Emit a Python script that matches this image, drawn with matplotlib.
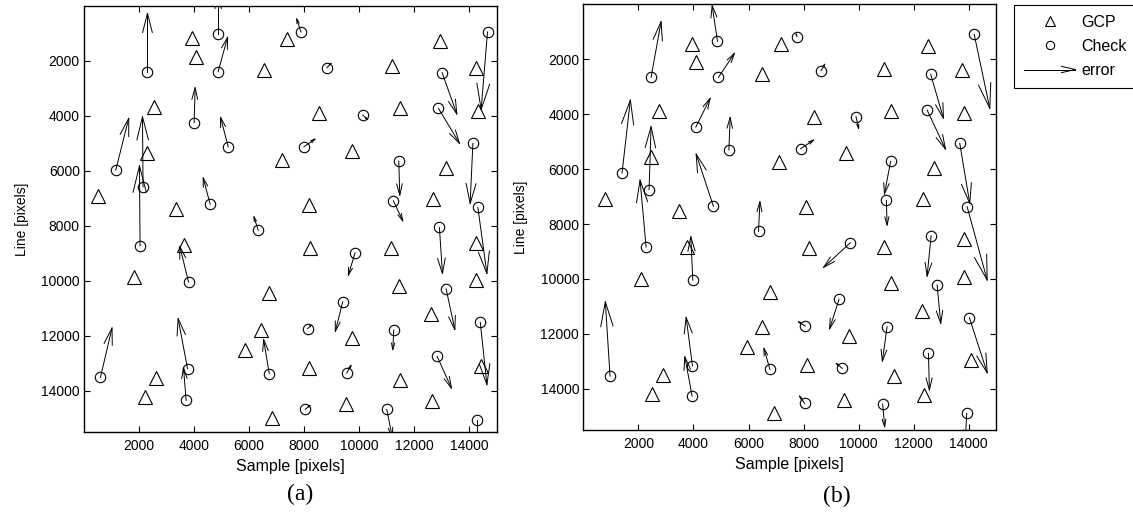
import numpy as np
import matplotlib.pyplot as plt
from matplotlib.lines import Line2D
from matplotlib.legend_handler import HandlerBase

plt.rcParams['font.family'] = ['Liberation Sans', 'DejaVu Sans']

# ---- panel (a) ----
gcp_a_x = [498, 1807, 2218, 2633, 2280, 2535, 3345, 3615, 3905, 4050, 5844, 6425, 6716,
           6813, 6535, 7382, 7189, 8171, 8207, 8171, 8535, 9745, 9745, 9527, 11200, 11480,
           11142, 11433, 11469, 12680, 12596, 12633, 12924, 13142, 14255, 14305, 14255,
           14233, 14425]
gcp_a_y = [6918, 9858, 14230, 13537, 5363, 3665, 7392, 8703, 1173, 1866, 12503, 11775, 10426,
           14980, 2328, 1199, 5607, 7234, 8812, 13184, 3905, 5279, 12080, 14495, 2182, 3701,
           8812, 10186, 13621, 7038, 11191, 14375, 1283, 5887, 2244, 3810, 8641,
           9978, 13111]

chk_a_x = [2305, 4873, 4873, 4000, 5236, 1153, 2145, 2036, 4582, 6327, 7880, 8825, 13007,
           14655, 10124, 12873, 14124, 7989, 11433, 11236, 14305, 9844, 12909, 3796, 596,
           3760, 3709, 6727, 9396, 8124, 9542, 8036, 11251, 10996, 13153, 12825, 14393, 14280]
chk_a_y = [2390, 1027, 2390, 4248, 5122, 5971, 6579, 8728, 7210, 8157, 944, 2244, 2426,
           944, 3967, 3723, 4998, 5122, 5643, 7089, 7330, 8983, 8058, 10040, 13512,
           13195, 14350, 13377, 10768, 11738, 13355, 14678, 11789, 14678, 10295, 12747, 11509, 15053]
err_a_u = [0, 0, 342, 36, -276, 472, -21, -21, -255, -156, -156, 146, 535,
           -230, 167, 763, -99, 400, 36, 342, 328, -244, 109, -316, 422,
           -342, -94, -203, -269, 120, 156, 171, -37, 200, 316, 520, 240, 0]
err_a_v = [-2130, -1400, -1253, -1275, -1071, -1884, -2550, -2914, -959, -485, -474, -160, 1505,
           2816, 157, 1275, 2186, -280, 1239, 729, 2404, 813, 1676, -1290, -1796,
           -1821, -1191, -1239, 1068, -120, -280, -146, 714, 1000, 1480, 1155, 2269, 900]

# ---- panel (b) ----
gcp_b_x = [789, 2087, 2498, 2887, 2742, 2462, 3480, 3771, 3942, 4087, 5942, 6498, 6487,
           6789, 6909, 7190, 7091, 8087, 8182, 8124, 8364, 9553, 9636, 9480, 10935, 11178,
           10935, 11178, 11273, 12327, 12305, 12378, 12524, 12727, 13745, 13818, 13844,
           13844, 14098]
gcp_b_y = [7100, 10004, 14204, 13512, 3894, 5548, 7537, 8827, 1454, 2098, 12492, 11741, 2536,
           10466, 14874, 1440, 5730, 7380, 8885, 13137, 4091, 5402, 12080, 14411, 2365, 3884,
           8849, 10160, 13526, 7078, 11158, 14229, 1504, 5948, 2390, 3967, 8546,
           9920, 12955]

chk_b_x = [2462, 4873, 4909, 4087, 5287, 1407, 2389, 2280, 4727, 6364, 7760, 8633, 12618,
           14196, 9905, 12487, 13673, 7891, 11163, 11007, 13942, 9698, 12633, 3978, 971,
           3964, 3953, 6778, 9287, 8062, 9407, 8036, 11033, 10873, 12851, 12535, 14025, 13927]
chk_b_y = [2656, 1344, 2656, 4466, 5304, 6142, 6750, 8838, 7355, 8266, 1177, 2415, 2547,
           1090, 4091, 3847, 5060, 5256, 5716, 7137, 7370, 8681, 8425, 10040, 13537,
           13162, 14266, 13293, 10743, 11716, 13257, 14532, 11741, 14557, 10222, 12711, 11414, 14897]
err_b_u = [363, -193, 582, 520, 48, 302, 73, -218, -629, 51, -30, 131, 462,
           568, 95, 666, 363, 473, -228, 26, 727, -971, -146, -73, -171,
           -229, -266, -218, -342, -244, -218, -181, -171, 72, 131, 36, 644, -50]
err_b_v = [-2026, -1300, -875, -1045, -1191, -2659, -2295, -2441, -1905, -1079, -100, -233, 1603,
           2695, 423, 1421, 2186, -316, 1191, 899, 2670, 896, 1470, -1578, -2706,
           -1763, -1432, -765, 1071, -157, -182, -266, 1250, 827, 1395, 1336, 2003, 900]


def quiver_open(ax, x, y, u, v, alpha=0.33, beta=0.25, **kw):
    # matlab-style quiver: shaft + two open barbs, all in data units
    x, y, u, v = map(np.asarray, (x, y, u, v))
    for xi, yi, ui, vi in zip(x, y, u, v):
        tx, ty = xi + ui, yi + vi
        ax.plot([xi, tx], [yi, ty], **kw)
        ax.plot([tx - alpha * (ui + beta * vi), tx, tx - alpha * (ui - beta * vi)],
                [ty - alpha * (vi - beta * ui), ty, ty - alpha * (vi + beta * ui)], **kw)


class HandlerArrow(HandlerBase):
    def create_artists(self, legend, orig_handle, xdescent, ydescent,
                       width, height, fontsize, trans):
        y0 = height / 2 - ydescent
        x0, x1 = -xdescent, width - xdescent
        hl, hw = 0.27 * (x1 - x0), 0.06 * (x1 - x0)
        shaft = Line2D([x0, x1], [y0, y0], color='k', lw=0.7)
        head = Line2D([x1 - hl, x1, x1 - hl], [y0 + hw, y0, y0 - hw], color='k', lw=0.7)
        for a in (shaft, head):
            a.set_transform(trans)
        return [shaft, head]


fig = plt.figure(figsize=(11.33, 5.12), dpi=100)
axA = fig.add_axes([84 / 1133, 1 - 432 / 512, 413 / 1133, 426 / 512])
axB = fig.add_axes([583.3 / 1133, 1 - 430 / 512, 413 / 1133, 425.6 / 512])

panels = [(axA, gcp_a_x, gcp_a_y, chk_a_x, chk_a_y, err_a_u, err_a_v),
          (axB, gcp_b_x, gcp_b_y, chk_b_x, chk_b_y, err_b_u, err_b_v)]

for ax, gx, gy, cx, cy, u, v in panels:
    ax.plot(gx, gy, '^', ms=9.5, mfc='none', mec='k', mew=0.8)
    ax.plot(cx, cy, 'o', ms=7.5, mfc='none', mec='k', mew=0.8)
    quiver_open(ax, cx, cy, u, v, color='k', lw=0.7)
    ax.set_xlim(0, 15000)
    ax.set_ylim(15500, 0)
    ax.set_xticks(np.arange(2000, 15000, 2000))
    ax.set_yticks(np.arange(2000, 15000, 2000))
    ax.tick_params(direction='in', top=True, right=True, length=4, width=0.8, labelsize=10)
    ax.tick_params(axis='x', pad=5)
    ax.tick_params(axis='y', pad=3)
    for s in ax.spines.values():
        s.set_linewidth(1.0)
    ax.set_xlabel('Sample [pixels]', fontsize=11.5, labelpad=4)
    ax.set_ylabel('Line [pixels]', fontsize=10, labelpad=9)

fig.text(300 / 1133, 1 - 494 / 512, '(a)', ha='center', va='center',
         family='Liberation Serif', fontsize=17)
fig.text(837 / 1133, 1 - 496 / 512, '(b)', ha='center', va='center',
         family='Liberation Serif', fontsize=17)

h_gcp = Line2D([], [], ls='none', marker='^', ms=7.5, mfc='none', mec='k', mew=0.8)
h_chk = Line2D([], [], ls='none', marker='o', ms=6, mfc='none', mec='k', mew=0.8)
h_err = Line2D([], [], color='k')
leg = fig.legend([h_gcp, h_chk, h_err], ['GCP', 'Check', 'error'],
                 handler_map={h_err: HandlerArrow()},
                 loc='upper left', bbox_to_anchor=(1014 / 1133, 1 - 5 / 512),
                 borderaxespad=0, fontsize=11.5, handlelength=3.25, handletextpad=0.37,
                 borderpad=0.6, labelspacing=0.58, fancybox=False, framealpha=1,
                 edgecolor='k')
leg.get_frame().set_linewidth(0.8)

fig.savefig('out.png', dpi=100)
